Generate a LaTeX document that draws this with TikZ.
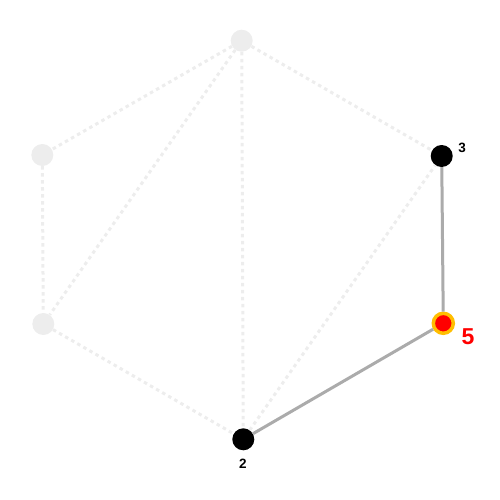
\documentclass[tikz,border=0pt]{standalone}
\usepackage{fontspec}
\setmainfont{Liberation Sans}
\begin{document}
\begin{tikzpicture}[x=1pt,y=-1pt,
  faint/.style={circle,fill=black!7,minimum size=22pt,inner sep=0pt},
  dark/.style={circle,fill=black,minimum size=22pt,inner sep=0pt},
  hot/.style={circle,fill=red,draw={rgb,255:red,255;green,190;blue,0},line width=3.5pt,minimum size=20pt,inner sep=0pt},
  dotedge/.style={draw=black!7,line width=3pt,dash pattern=on 3.5pt off 3.5pt},
  solidedge/.style={draw=black!33,line width=3pt},
  lbl/.style={font=\bfseries\fontsize{13.5}{13.5}\selectfont,inner sep=0pt}]
\useasboundingbox (0,0) rectangle (500,500);
\node[faint] (t) at (241.7,40.7) {};
\node[faint] (lu) at (42.3,155) {};
\node[faint] (ll) at (43.3,324) {};
\node[dark] (b) at (243.3,439.3) {};
\node[dark] (ru) at (441.7,156) {};
\node[hot] (rl) at (443.3,323.3) {};
\draw[dotedge] (t) -- (lu);
\draw[dotedge] (lu) -- (ll);
\draw[dotedge] (ll) -- (b);
\draw[dotedge] (t) -- (ll);
\draw[dotedge] (t) -- (b);
\draw[dotedge] (t) -- (ru);
\draw[dotedge] (b) -- (ru);
\draw[solidedge] (ru) -- (rl);
\draw[solidedge] (rl) -- (b);
\node[lbl] (l3) at (462,148) {3};
\node[lbl] (l2) at (243,464) {2};
\node[lbl,text=red,font=\bfseries\fontsize{23}{23}\selectfont] (l5) at (468,336.5) {5};
\end{tikzpicture}
\end{document}
